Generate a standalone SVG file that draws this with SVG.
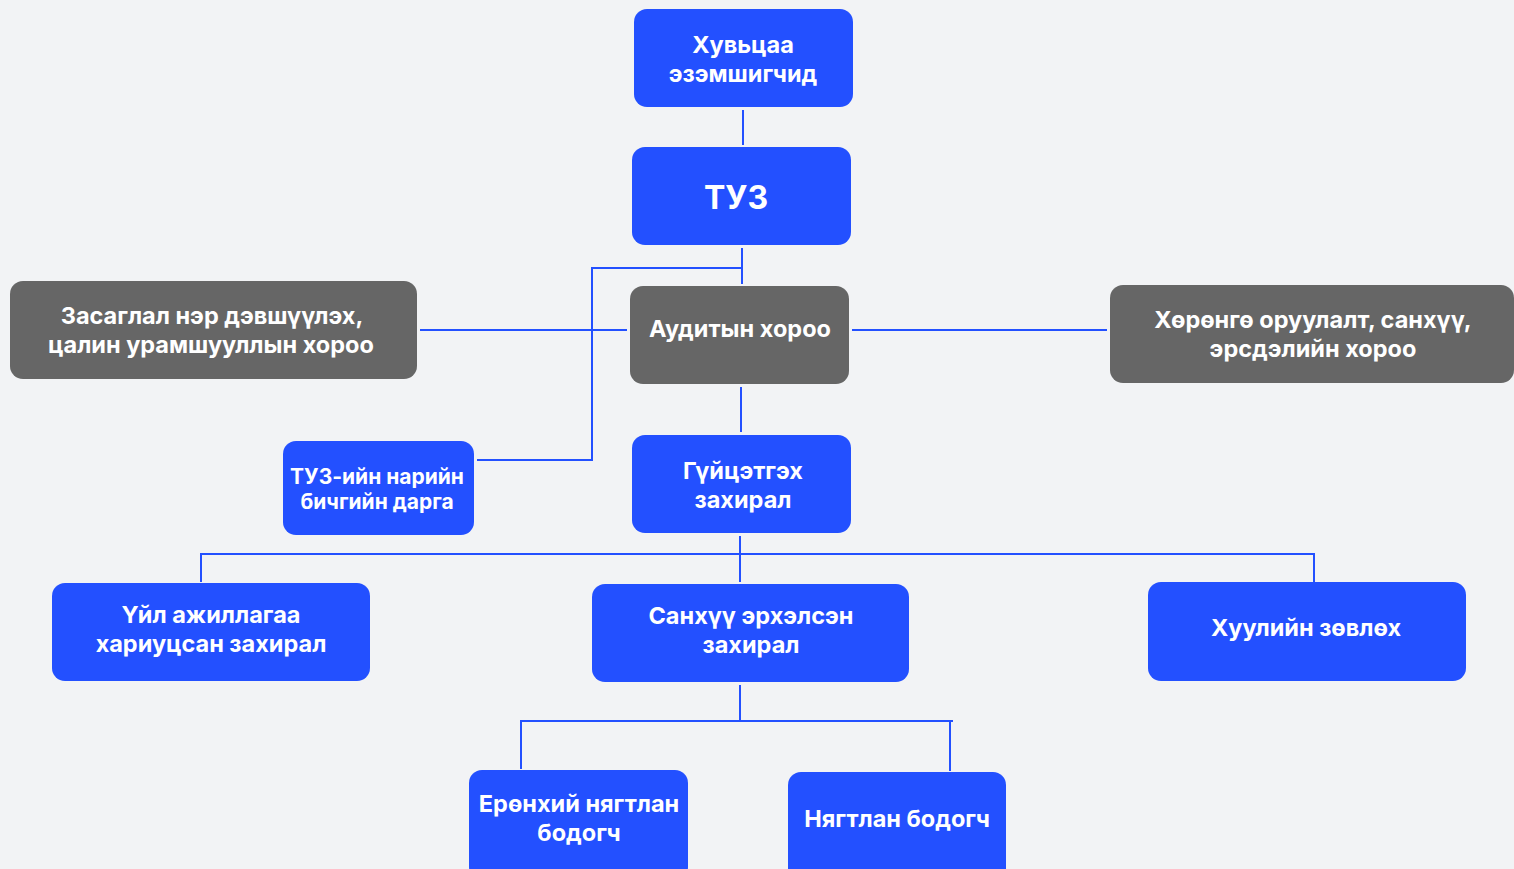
<svg xmlns="http://www.w3.org/2000/svg" width="1514" height="869" viewBox="0 0 1514 869">
<style>
.b{fill:#2350ff}
.g{fill:#666666}
text{font-family:Inter,"Noto Sans","Liberation Sans",sans-serif;font-weight:700;fill:#ffffff;text-anchor:middle;font-size:23.5px}
.s{font-size:21px}
.c line{stroke:#2350ff;stroke-width:2}
</style>
<rect width="1514" height="869" fill="#f2f3f5"/>
<g class="c">
<line x1="743" y1="110" x2="743" y2="145"/>
<line x1="742" y1="248" x2="742" y2="284"/>
<line x1="592" y1="268" x2="741" y2="268"/>
<line x1="592" y1="267" x2="592" y2="461"/>
<line x1="477" y1="460" x2="593" y2="460"/>
<line x1="420" y1="330" x2="627" y2="330"/>
<line x1="852" y1="330" x2="1107" y2="330"/>
<line x1="741" y1="387" x2="741" y2="432"/>
<line x1="740" y1="536" x2="740" y2="582"/>
<line x1="200" y1="554" x2="1315" y2="554"/>
<line x1="201" y1="553" x2="201" y2="582"/>
<line x1="1314" y1="553" x2="1314" y2="582"/>
<line x1="740" y1="685" x2="740" y2="721"/>
<line x1="520" y1="721" x2="953" y2="721"/>
<line x1="521" y1="721" x2="521" y2="769"/>
<line x1="950" y1="721" x2="950" y2="771"/>
</g>
<g id="shareholders"><rect class="b" x="634" y="9" width="219" height="98" rx="13"/><text x="743" y="53">Хувьцаа</text><text x="743" y="82">эзэмшигчид</text></g>
<g id="board"><rect class="b" x="632" y="147" width="219" height="98" rx="13"/><text x="736" y="209" style="font-size:32px">ТУЗ</text></g>
<g id="audit"><rect class="g" x="630" y="286" width="219" height="98" rx="13"/><text x="740" y="337">Аудитын хороо</text></g>
<g id="governance"><rect class="g" x="10" y="281" width="407" height="98" rx="13"/><text x="212" y="324">Засаглал нэр дэвшүүлэх,</text><text x="211" y="353">цалин урамшууллын хороо</text></g>
<g id="investment"><rect class="g" x="1110" y="285" width="404" height="98" rx="13"/><text x="1313" y="328">Хөрөнгө оруулалт, санхүү,</text><text x="1313" y="357">эрсдэлийн хороо</text></g>
<g id="secretary"><rect class="b" x="283" y="441" width="191" height="94" rx="13"/><text class="s" x="377" y="484">ТУЗ-ийн нарийн</text><text class="s" x="377" y="509">бичгийн дарга</text></g>
<g id="ceo"><rect class="b" x="632" y="435" width="219" height="98" rx="13"/><text x="743" y="479">Гүйцэтгэх</text><text x="743" y="508">захирал</text></g>
<g id="coo"><rect class="b" x="52" y="583" width="318" height="98" rx="13"/><text x="211" y="623">Үйл ажиллагаа</text><text x="211" y="652">хариуцсан захирал</text></g>
<g id="cfo"><rect class="b" x="592" y="584" width="317" height="98" rx="13"/><text x="751" y="624">Санхүү эрхэлсэн</text><text x="751" y="653">захирал</text></g>
<g id="legal"><rect class="b" x="1148" y="582" width="318" height="99" rx="13"/><text x="1306" y="636">Хуулийн зөвлөх</text></g>
<g id="chief-accountant"><rect class="b" x="469" y="770" width="219" height="110" rx="13"/><text x="579" y="812">Ерөнхий нягтлан</text><text x="579" y="841">бодогч</text></g>
<g id="accountant"><rect class="b" x="788" y="772" width="218" height="110" rx="13"/><text x="897" y="827">Нягтлан бодогч</text></g>
</svg>
